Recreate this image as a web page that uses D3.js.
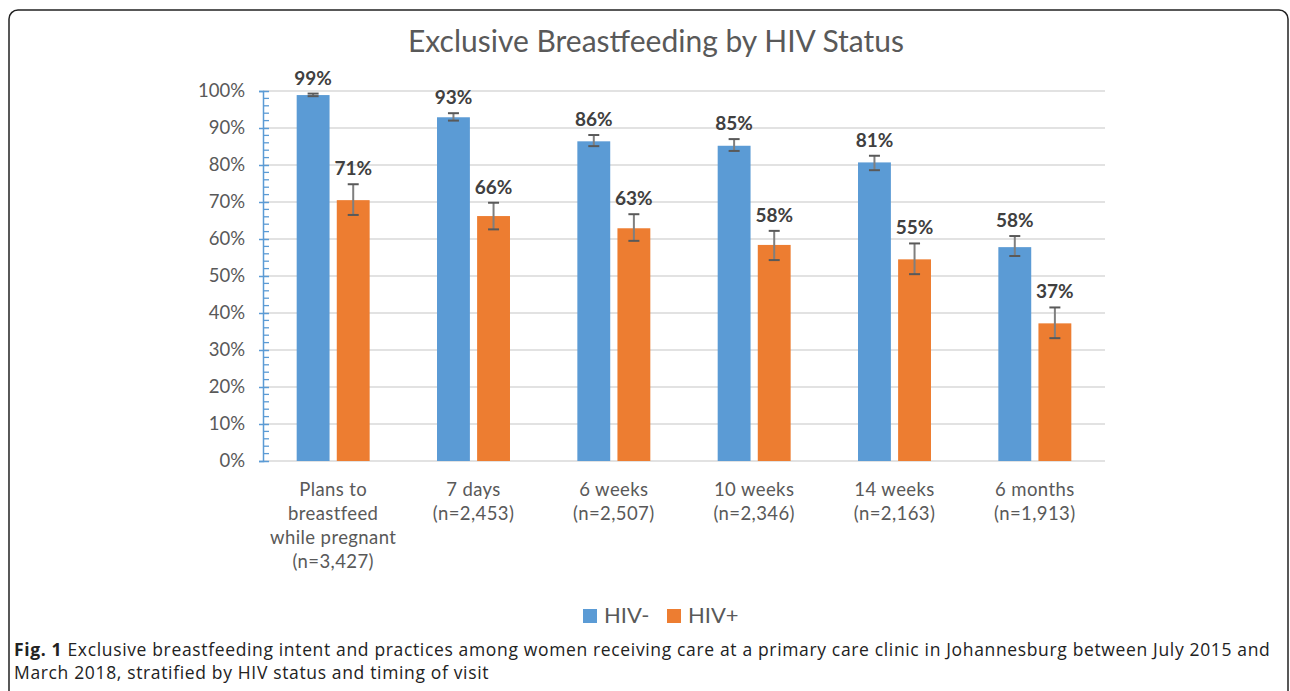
<!DOCTYPE html>
<html>
<head>
<meta charset="utf-8">
<script src="https://cdn.jsdelivr.net/npm/d3@7"></script>
<style>
  body { margin: 0; background: #fff; }
  svg { display: block; }
</style>
</head>
<body>
<div class="chart"></div>
<script>
var categories = [
  ['Plans to', 'breastfeed', 'while pregnant', '(n=3,427)'],
  ['7 days', '(n=2,453)'],
  ['6 weeks', '(n=2,507)'],
  ['10 weeks', '(n=2,346)'],
  ['14 weeks', '(n=2,163)'],
  ['6 months', '(n=1,913)']
];
var seriesNames = ['HIV-', 'HIV+'];
var hivNeg = [98.9, 92.9, 86.4, 85.2, 80.7, 57.8];
var hivPos = [70.5, 66.2, 62.9, 58.4, 54.5, 37.2];
var hivNegLow = [98.6, 92.0, 85.1, 83.8, 78.6, 55.4];
var hivNegHigh = [99.3, 94.0, 88.1, 87.0, 82.5, 60.8];
var hivPosLow = [66.5, 62.6, 59.5, 54.3, 50.5, 33.2];
var hivPosHigh = [74.8, 69.8, 66.7, 62.2, 58.8, 41.5];
var yTicks = [0, 10, 20, 30, 40, 50, 60, 70, 80, 90, 100];
var caption = ['Exclusive breastfeeding intent and practices among women receiving care at a primary care clinic in Johannesburg between July 2015 and',
               'March 2018, stratified by HIV status and timing of visit'];

var W = 1290, H = 691;
var plotLeft = 263, plotRight = 1105, plotTop = 91, plotBottom = 461;
var colors = ['#5b9bd5', '#ed7d31'];
var font = 'Lato, "Open Sans", sans-serif';

var svg = d3.select('.chart').append('svg')
  .attr('width', W)
  .attr('height', H);

// frame
svg.append('rect')
  .attr('x', 9).attr('y', 10)
  .attr('width', 1279).attr('height', 720)
  .attr('rx', 9)
  .attr('fill', 'none')
  .attr('stroke', '#222')
  .attr('stroke-width', 1.5);

var x = d3.scaleBand().domain(d3.range(categories.length)).range([plotLeft, plotRight]).paddingInner(0.48).paddingOuter(0.24);
var xs = d3.scaleBand().domain([0, 1]).range([0, x.bandwidth()]).paddingInner(0.18);
var y = d3.scaleLinear().domain([0, 100]).range([plotBottom, plotTop]);

var flat = [];
hivNeg.forEach(function(v, i) {
  flat.push({i: i, s: 0, v: v, lo: hivNegLow[i], hi: hivNegHigh[i]});
  flat.push({i: i, s: 1, v: hivPos[i], lo: hivPosLow[i], hi: hivPosHigh[i]});
});

// title
svg.append('text')
  .attr('x', 656).attr('y', 52)
  .attr('text-anchor', 'middle')
  .attr('font-family', font)
  .attr('font-size', 30)
  .attr('fill', '#595959')
  .text('Exclusive Breastfeeding by HIV Status');

// gridlines
svg.append('g').selectAll('line')
  .data(yTicks)
  .enter().append('line')
  .attr('x1', plotLeft).attr('x2', plotRight)
  .attr('y1', d => y(d)).attr('y2', d => y(d))
  .attr('stroke', '#d9d9d9')
  .attr('stroke-width', 1.5);

// y axis: blue line, minor ticks every 2%
var yAxis = d3.axisLeft(y).tickValues(yTicks).tickFormat(d => d + '%').tickSize(4).tickPadding(14);
var gy = svg.append('g')
  .attr('transform', 'translate(' + plotLeft + ',0)')
  .call(yAxis);
gy.select('.domain').attr('stroke', '#5b9bd5').attr('stroke-width', 1.5);
gy.selectAll('.tick line').attr('stroke', '#5b9bd5').attr('stroke-width', 1.5).attr('x2', 6).attr('x1', -4);
gy.selectAll('.tick text')
  .attr('font-family', font)
  .attr('font-size', 18.5)
  .attr('fill', '#595959');

svg.append('g').selectAll('line')
  .data(d3.range(0, 101, 2).filter(d => d % 10 !== 0))
  .enter().append('line')
  .attr('x1', plotLeft).attr('x2', plotLeft + 6)
  .attr('y1', d => y(d)).attr('y2', d => y(d))
  .attr('stroke', '#5b9bd5')
  .attr('stroke-width', 1.3);

// bars
svg.append('g').selectAll('rect')
  .data(flat)
  .enter().append('rect')
  .attr('x', d => x(d.i) + xs(d.s))
  .attr('y', d => y(d.v))
  .attr('width', xs.bandwidth())
  .attr('height', d => y(0) - y(d.v))
  .attr('fill', d => colors[d.s]);

// error bars
var cx = d => x(d.i) + xs(d.s) + xs.bandwidth() / 2;
var err = svg.append('g').selectAll('g')
  .data(flat)
  .enter().append('g');
err.append('line')
  .attr('x1', cx).attr('x2', cx)
  .attr('y1', d => y(d.lo)).attr('y2', d => y(d.hi))
  .attr('stroke', '#7f7f7f')
  .attr('stroke-width', 2);
err.selectAll('.cap')
  .data(d => [{d: d, v: d.lo}, {d: d, v: d.hi}])
  .enter().append('line')
  .attr('class', 'cap')
  .attr('x1', c => cx(c.d) - 5.5).attr('x2', c => cx(c.d) + 5.5)
  .attr('y1', c => y(c.v)).attr('y2', c => y(c.v))
  .attr('stroke', '#595959')
  .attr('stroke-width', 2);

// value labels
svg.append('g').selectAll('text')
  .data(flat)
  .enter().append('text')
  .attr('x', cx)
  .attr('y', d => y(d.hi) - 9)
  .attr('text-anchor', 'middle')
  .attr('font-family', font)
  .attr('font-weight', 'bold')
  .attr('font-size', 19)
  .attr('fill', '#404040')
  .text(d => Math.round(d.v) + '%');

// category labels
var cl = svg.append('g').selectAll('text')
  .data(categories)
  .enter().append('text')
  .attr('x', (d, i) => x(i) + x.bandwidth() / 2)
  .attr('y', 496)
  .attr('text-anchor', 'middle')
  .attr('font-family', font)
  .attr('font-size', 18.5)
  .attr('letter-spacing', 0.4)
  .attr('fill', '#595959');
cl.selectAll('tspan')
  .data(d => d)
  .enter().append('tspan')
  .attr('x', function() { return this.parentNode.getAttribute('x'); })
  .attr('dy', (d, j) => j === 0 ? 0 : 24)
  .text(d => d);

// legend
var legend = svg.append('g').selectAll('g')
  .data(seriesNames)
  .enter().append('g')
  .attr('transform', (d, i) => 'translate(' + (583 + i * 84) + ',609)');
legend.append('rect')
  .attr('width', 14).attr('height', 14)
  .attr('fill', (d, i) => colors[i]);
legend.append('text')
  .attr('x', 21).attr('y', 14)
  .attr('font-family', font)
  .attr('font-size', 22)
  .attr('fill', '#595959')
  .text(d => d);

// caption
var cap = svg.append('g')
  .attr('font-family', '"Open Sans", sans-serif')
  .attr('font-size', 17.5)
  .attr('letter-spacing', 0.65)
  .attr('fill', '#222');
var line1 = cap.append('text').attr('x', 14).attr('y', 656);
line1.append('tspan').attr('font-weight', 'bold').text('Fig. 1');
line1.append('tspan').text(' ' + caption[0]);
cap.append('text').attr('x', 14).attr('y', 679).text(caption[1]);
</script>
</body>
</html>
